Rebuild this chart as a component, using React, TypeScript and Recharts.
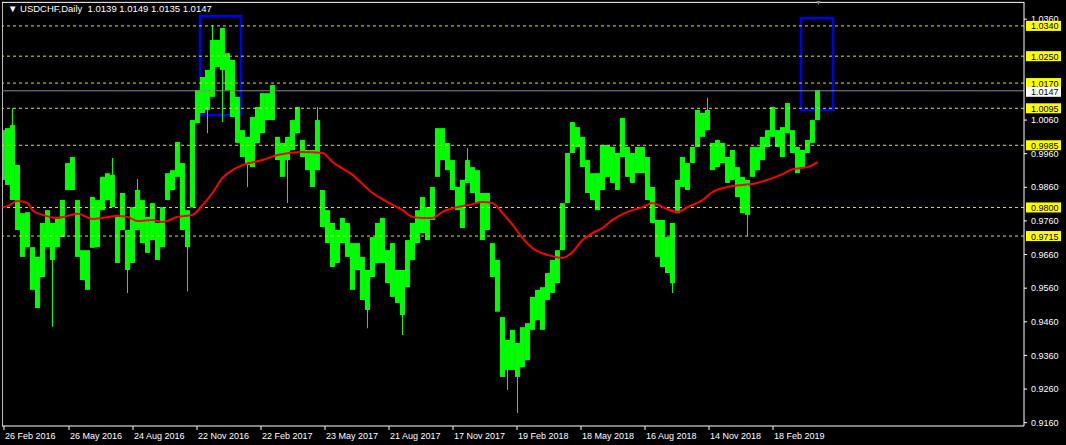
import React from "react";
import {
  ComposedChart,
  Bar,
  Line,
  XAxis,
  YAxis,
  ReferenceLine,
  ReferenceArea,
} from "recharts";

const FONT = "'Liberation Sans', Arial, sans-serif";

// one entry per week (5 daily bars)
const weekHigh = [
  1.003, 1.0036, 1.0045, 0.9926, 0.9783, 0.9786, 0.9682, 0.9653, 0.9754, 0.9792,
  0.9754, 0.9772, 0.9822, 0.9932, 0.995, 0.9822, 0.9673, 0.9673, 0.9831, 0.9822,
  0.9891, 0.9902, 0.9897, 0.9772, 0.9843, 0.9733, 0.9801, 0.9852, 0.9822, 0.9772,
  0.9813, 0.9754, 0.9801, 0.9902, 0.9911, 0.9995, 0.9932, 0.9792, 1.006, 1.0149,
  1.0188, 1.0209, 1.0298, 1.0298, 1.0334, 1.0259, 1.0239, 1.0129, 1.003, 1.001,
  1.0069, 1.0099, 1.014, 1.014, 1.0164, 1.001, 0.9992, 1.001, 1.006, 1.0099,
  1.0001, 0.9971, 0.9971, 1.006, 0.9852, 0.9792, 0.9754, 0.9733, 0.9769, 0.9754,
  0.9694, 0.9694, 0.9653, 0.9614, 0.9712, 0.9754, 0.9769, 0.9673, 0.9694, 0.9614,
  0.9614, 0.9703, 0.9754, 0.9792, 0.9831, 0.9801, 0.9861, 1.0036, 1.0036, 0.9992,
  0.9941, 0.9861, 0.9882, 0.9941, 0.992, 0.9911, 0.9843, 0.9843, 0.9694, 0.9644,
  0.9474, 0.9406, 0.9436, 0.9397, 0.9444, 0.9456, 0.9534, 0.9555, 0.9563, 0.9605,
  0.9644, 0.9673, 0.9813, 0.9962, 1.0054, 1.0039, 1.001, 0.9941, 0.9902, 0.9902,
  0.9986, 0.9986, 0.998, 0.9962, 1.0066, 0.998, 0.9962, 0.998, 0.998, 0.995,
  0.9861, 0.9763, 0.9763, 0.9712, 0.9754, 0.9882, 0.995, 0.9932, 0.998, 1.009,
  1.0081, 1.009, 0.9992, 1.0001, 0.9992, 0.995, 0.9971, 0.992, 0.9891, 0.9882,
  0.998, 0.998, 1.001, 1.003, 1.0099, 1.003, 1.0039, 1.0111, 1.003, 0.998,
  0.9971, 1.0001, 1.006, 1.0149,
];

const weekLow = [
  0.9882, 0.9867, 0.9822, 0.9733, 0.9653, 0.9682, 0.9555, 0.9501, 0.9593, 0.9682,
  0.9644, 0.9682, 0.9712, 0.9852, 0.9852, 0.9653, 0.9584, 0.9555, 0.968, 0.9682,
  0.9792, 0.9822, 0.9801, 0.9635, 0.9733, 0.9614, 0.9635, 0.9733, 0.9694, 0.9665,
  0.9703, 0.9644, 0.9682, 0.9822, 0.9852, 0.9891, 0.9733, 0.9682, 0.98, 1.0051,
  1.0081, 1.009, 1.0129, 1.0218, 1.0209, 1.0149, 1.0069, 0.9992, 0.995, 0.9926,
  0.992, 0.9992, 1.0021, 1.006, 1.006, 0.9941, 0.9891, 0.9941, 0.9971, 1.0021,
  0.995, 0.9911, 0.9861, 0.9911, 0.9742, 0.9694, 0.9623, 0.9635, 0.9694, 0.9653,
  0.9555, 0.9614, 0.9525, 0.9495, 0.9593, 0.9635, 0.9635, 0.9575, 0.9534, 0.9516,
  0.948, 0.9563, 0.9644, 0.9694, 0.9724, 0.9703, 0.9763, 0.9891, 0.9941, 0.9911,
  0.9852, 0.9792, 0.9739, 0.9873, 0.9843, 0.9813, 0.9703, 0.9733, 0.9593, 0.949,
  0.9296, 0.9317, 0.9317, 0.9296, 0.9325, 0.9346, 0.9436, 0.9465, 0.9436, 0.9525,
  0.9546, 0.9575, 0.9673, 0.9813, 0.9962, 0.998, 0.992, 0.9843, 0.9822, 0.9792,
  0.9852, 0.9891, 0.9873, 0.9852, 0.995, 0.9891, 0.9873, 0.9902, 0.9902, 0.9822,
  0.9754, 0.9653, 0.9623, 0.9605, 0.9575, 0.9783, 0.9861, 0.9852, 0.9932, 0.998,
  1.001, 1.003, 0.9911, 0.992, 0.9932, 0.9873, 0.9882, 0.9831, 0.9783, 0.9778,
  0.9891, 0.9911, 0.9941, 0.998, 1.001, 0.998, 0.995, 1.0021, 0.9962, 0.9902,
  0.992, 0.9962, 0.9992, 1.006,
];

// single-day spikes poking out of the weekly band
const spikeWeek = [2, 10, 22, 25, 27, 37, 41, 42, 44, 49, 57, 63, 73, 80, 93, 101, 103, 134, 141, 149];
const spikeLow = [1.003, 0.9445, 0.985, 0.9546, 0.98, 0.955, 1.0021, 1.02, 1.0054, 0.9861, 0.9813, 1.0, 0.9441, 0.9421, 0.99, 0.9257, 0.9189, 0.9546, 1.006, 0.9715];
const spikeHigh = [1.0095, 0.968, 0.9947, 0.965, 0.9885, 0.97, 1.01, 1.0343, 1.022, 0.994, 0.995, 1.0099, 0.951, 0.949, 0.9977, 0.933, 0.931, 0.959, 1.0126, 0.979];

// red moving average, read at these weeks
const maWeek = [
  0, 1, 3, 5, 6, 8, 11, 13, 15, 18, 20, 23, 25, 27, 30, 32, 35, 38, 40, 42, 44, 46, 48,
  52, 55, 60, 64, 66, 70, 74, 77, 80, 82, 84, 86, 88, 91, 94, 96, 98, 100, 102, 104,
  106, 109, 112, 114, 116, 118, 120, 122, 125, 128, 130, 132, 135, 137, 140, 142, 145,
  148, 150, 153, 156, 158, 161, 163,
];
const maValue = [
  0.9801, 0.9804, 0.9819, 0.9813, 0.9792, 0.9778, 0.9769, 0.9775, 0.9781, 0.9766,
  0.9769, 0.9775, 0.9772, 0.976, 0.9763, 0.9757, 0.9772, 0.9778, 0.9807, 0.9843,
  0.9888, 0.9911, 0.9926, 0.9941, 0.9956, 0.9965, 0.9962, 0.9935, 0.9897, 0.9843,
  0.9816, 0.9792, 0.9772, 0.9769, 0.9769, 0.9787, 0.9801, 0.981, 0.9816, 0.9813,
  0.9783, 0.9748, 0.9709, 0.9679, 0.9659, 0.965, 0.9668, 0.9703, 0.9724, 0.9739,
  0.9763, 0.9787, 0.9801, 0.9813, 0.9801, 0.9787, 0.9801, 0.9822, 0.9846, 0.9861,
  0.9867, 0.987, 0.9882, 0.9899, 0.9914, 0.992, 0.9935,
];

const dateBars = [4, 69, 133, 197, 261, 325, 389, 453, 517, 581, 645, 709, 773];
const dateLabels = [
  "26 Feb 2016", "26 May 2016", "24 Aug 2016", "22 Nov 2016", "22 Feb 2017",
  "23 May 2017", "21 Aug 2017", "17 Nov 2017", "19 Feb 2018", "18 May 2018",
  "16 Aug 2018", "14 Nov 2018", "18 Feb 2019",
];

const priceTicks = [0.916, 0.926, 0.936, 0.946, 0.956, 0.966, 0.976, 0.986, 0.996, 1.006, 1.036];
const levels = [1.034, 1.025, 1.017, 1.0095, 0.9985, 0.98, 0.9715];
const lastPrice = 1.0147;
const priceMin = 0.91501;
const priceMax = 1.04111;

const boxFrom = [200, 801];
const boxTo = [241, 833];
const boxLow = [1.0075, 1.009];
const boxHigh = [1.0369, 1.0363];

const rows: any[] = weekHigh.map((h, k) => ({
  bar: 5 * k + 2.5,
  range: [weekLow[k], h],
  spike: undefined,
  ma: null,
}));
spikeWeek.forEach((k, i) => {
  rows[k].spike = [spikeLow[i], spikeHigh[i]];
});
maWeek.forEach((k, i) => {
  rows[k].ma = maValue[i];
});

const Tag = (props: any) => {
  const vb = props.viewBox;
  if (!vb) return null;
  const x = vb.x + vb.width + 2;
  const y = vb.y + (props.shift || 0);
  return (
    <g>
      <rect x={x} y={y - 5} width={35} height={10} fill={props.bg} />
      <text x={x + 5} y={y + 3.5} fontSize={9} fontFamily={FONT} fill="#000">
        {props.text}
      </text>
    </g>
  );
};

const DateTick = (props: any) => {
  const { x, y, payload } = props;
  const i = dateBars.indexOf(payload.value);
  return (
    <text x={x + 1} y={y} dy="0.71em" fill="#fff" fontSize={9} fontFamily={FONT} textAnchor="start">
      {dateLabels[i]}
    </text>
  );
};

export default function App() {
  return (
    <div style={{ position: "fixed", left: 0, top: 0, width: 1066, height: 445, background: "#000" }}>
      <ComposedChart
        width={1066}
        height={445}
        data={rows}
        margin={{ top: 2, right: 0, bottom: 0, left: 2 }}
      >
        <XAxis
          xAxisId="d"
          dataKey="bar"
          type="number"
          domain={[2, 1024]}
          allowDataOverflow
          ticks={dateBars}
          interval={0}
          tick={<DateTick />}
          tickSize={4}
          tickMargin={3}
          height={19}
          axisLine={{ stroke: "#fff" }}
          tickLine={{ stroke: "#fff" }}
        />
        <XAxis xAxisId="s" dataKey="bar" type="number" domain={[2, 1024]} allowDataOverflow hide />
        <YAxis
          orientation="right"
          domain={[priceMin, priceMax]}
          allowDataOverflow
          ticks={priceTicks}
          interval={0}
          width={42}
          tickSize={3}
          tickMargin={4}
          tickFormatter={(v: number) => v.toFixed(4)}
          tick={{ fill: "#fff", fontSize: 9, fontFamily: FONT }}
          axisLine={{ stroke: "#fff" }}
          tickLine={{ stroke: "#fff" }}
        />
        <ReferenceLine xAxisId="d" x={2.5} stroke="#bbb" />
        <ReferenceLine xAxisId="d" y={1.041} stroke="#fff" />
        {levels.map((v) => (
          <ReferenceLine
            key={v}
            xAxisId="d"
            y={v}
            stroke="#e6e600"
            strokeDasharray="3 3"
            label={(p: any) => <Tag viewBox={p.viewBox} text={v.toFixed(4)} bg="#ffff00" />}
          />
        ))}
        <ReferenceLine
          xAxisId="d"
          y={lastPrice}
          stroke="#8a8a8a"
          label={(p: any) => <Tag viewBox={p.viewBox} text={lastPrice.toFixed(4)} bg="#ffffff" shift={1} />}
        />
        {boxFrom.map((x1, i) => (
          <ReferenceArea
            key={x1}
            xAxisId="d"
            x1={x1}
            x2={boxTo[i]}
            y1={boxLow[i]}
            y2={boxHigh[i]}
            stroke="#0000ee"
            strokeWidth={2.5}
            fill="none"
            fillOpacity={0}
          />
        ))}
        <Bar xAxisId="d" dataKey="range" fill="#00ff00" barSize={4.95} isAnimationActive={false} />
        <Bar xAxisId="s" dataKey="spike" fill="#00ff00" barSize={1} isAnimationActive={false} />
        <Line
          xAxisId="d"
          dataKey="ma"
          type="monotone"
          stroke="#ff0000"
          strokeWidth={2}
          dot={false}
          connectNulls
          isAnimationActive={false}
        />
      </ComposedChart>
      <div
        style={{
          position: "absolute",
          left: 8,
          top: 3,
          color: "#fff",
          fontFamily: FONT,
          fontSize: 9.5,
          whiteSpace: "pre",
        }}
      >
        {"\u25BC USDCHF,Daily  1.0139 1.0149 1.0135 1.0147"}
      </div>
      <div
        style={{
          position: "absolute",
          left: 815,
          top: -1,
          color: "#888",
          fontFamily: FONT,
          fontSize: 7,
          lineHeight: "7px",
        }}
      >
        {"\u25BC"}
      </div>
    </div>
  );
}
